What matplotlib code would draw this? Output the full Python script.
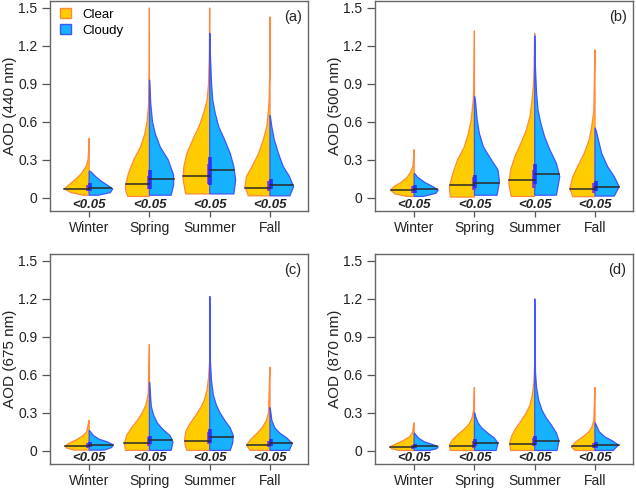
import numpy as np
import matplotlib
matplotlib.use('Agg')
import matplotlib.pyplot as plt
from matplotlib.patches import Patch

plt.rcParams['font.family'] = ['Liberation Sans', 'DejaVu Sans']

seasons = ['Winter', 'Spring', 'Summer', 'Fall']
wavelengths = ['440', '500', '675', '870']
tags = ['(a)', '(b)', '(c)', '(d)']
p_text = ['<0.05', '<0.05', '<0.05', '<0.05']

# half-violin outlines: (AOD, half width) from bottom to top
clear_440 = [
    [(0.02, 0.10), (0.04, 0.30), (0.07, 0.41), (0.10, 0.34), (0.14, 0.24), (0.19, 0.13), (0.25, 0.05), (0.30, 0.02), (0.36, 0.008), (0.47, 0.003)],
    [(0.01, 0.36), (0.05, 0.39), (0.09, 0.40), (0.19, 0.35), (0.30, 0.26), (0.40, 0.15), (0.50, 0.08), (0.60, 0.04), (0.75, 0.012), (1.00, 0.005), (1.50, 0.002)],
    [(0.03, 0.40), (0.14, 0.44), (0.245, 0.43), (0.35, 0.38), (0.46, 0.28), (0.56, 0.18), (0.67, 0.10), (0.77, 0.045), (0.90, 0.02), (1.15, 0.006), (1.50, 0.002)],
    [(0.015, 0.36), (0.087, 0.415), (0.17, 0.39), (0.245, 0.30), (0.35, 0.19), (0.46, 0.11), (0.56, 0.055), (0.67, 0.03), (0.77, 0.015), (1.00, 0.005), (1.43, 0.002)],
]
cloudy_440 = [
    [(0.02, 0.15), (0.04, 0.35), (0.07, 0.39), (0.10, 0.30), (0.13, 0.20), (0.17, 0.10), (0.20, 0.04), (0.21, 0.01)],
    [(0.02, 0.36), (0.10, 0.40), (0.18, 0.40), (0.30, 0.31), (0.40, 0.18), (0.50, 0.10), (0.60, 0.05), (0.75, 0.02), (0.93, 0.003)],
    [(0.03, 0.40), (0.14, 0.43), (0.245, 0.40), (0.35, 0.34), (0.46, 0.245), (0.56, 0.15), (0.67, 0.09), (0.77, 0.05), (0.90, 0.03), (1.14, 0.01), (1.30, 0.003)],
    [(0.015, 0.33), (0.087, 0.39), (0.17, 0.32), (0.245, 0.22), (0.35, 0.14), (0.46, 0.07), (0.56, 0.03), (0.65, 0.003)],
]
clear_500 = [
    [(0.01, 0.12), (0.03, 0.32), (0.06, 0.39), (0.09, 0.33), (0.12, 0.22), (0.16, 0.12), (0.20, 0.06), (0.25, 0.02), (0.38, 0.003)],
    [(0.005, 0.40), (0.087, 0.415), (0.19, 0.36), (0.30, 0.28), (0.40, 0.17), (0.51, 0.10), (0.615, 0.055), (0.77, 0.02), (0.90, 0.01), (1.32, 0.002)],
    [(0.01, 0.39), (0.11, 0.43), (0.22, 0.40), (0.325, 0.33), (0.43, 0.23), (0.535, 0.14), (0.64, 0.08), (0.77, 0.045), (0.905, 0.02), (1.04, 0.01), (1.30, 0.002)],
    [(0.008, 0.37), (0.074, 0.415), (0.166, 0.37), (0.245, 0.29), (0.35, 0.18), (0.46, 0.095), (0.56, 0.055), (0.69, 0.02), (1.17, 0.002)],
]
cloudy_500 = [
    [(0.01, 0.15), (0.035, 0.36), (0.06, 0.40), (0.09, 0.30), (0.12, 0.18), (0.16, 0.06), (0.19, 0.01)],
    [(0.02, 0.375), (0.13, 0.415), (0.22, 0.39), (0.30, 0.28), (0.40, 0.15), (0.51, 0.08), (0.615, 0.045), (0.77, 0.015), (0.80, 0.003)],
    [(0.02, 0.36), (0.166, 0.415), (0.27, 0.36), (0.38, 0.25), (0.48, 0.165), (0.59, 0.10), (0.69, 0.055), (0.83, 0.03), (1.04, 0.01), (1.28, 0.002)],
    [(0.013, 0.32), (0.087, 0.40), (0.166, 0.32), (0.245, 0.21), (0.35, 0.11), (0.46, 0.055), (0.53, 0.02), (0.55, 0.003)],
]
clear_675 = [
    [(0.005, 0.25), (0.02, 0.37), (0.037, 0.40), (0.06, 0.33), (0.09, 0.20), (0.12, 0.10), (0.15, 0.04), (0.24, 0.004)],
    [(0.003, 0.40), (0.06, 0.415), (0.12, 0.38), (0.18, 0.30), (0.24, 0.20), (0.30, 0.12), (0.36, 0.06), (0.45, 0.02), (0.84, 0.003)],
    [(0.003, 0.38), (0.05, 0.41), (0.10, 0.415), (0.16, 0.39), (0.22, 0.32), (0.28, 0.23), (0.34, 0.15), (0.40, 0.09), (0.48, 0.045), (0.58, 0.02), (0.70, 0.003)],
    [(0.003, 0.33), (0.045, 0.39), (0.09, 0.32), (0.14, 0.21), (0.19, 0.12), (0.24, 0.06), (0.30, 0.025), (0.66, 0.003)],
]
cloudy_675 = [
    [(0.005, 0.25), (0.025, 0.37), (0.045, 0.40), (0.07, 0.30), (0.09, 0.17), (0.12, 0.07), (0.16, 0.005)],
    [(0.003, 0.36), (0.07, 0.39), (0.12, 0.34), (0.17, 0.22), (0.22, 0.13), (0.28, 0.07), (0.35, 0.03), (0.54, 0.003)],
    [(0.003, 0.34), (0.06, 0.38), (0.12, 0.39), (0.18, 0.34), (0.24, 0.25), (0.30, 0.17), (0.36, 0.11), (0.44, 0.06), (0.55, 0.03), (0.70, 0.012), (1.22, 0.003)],
    [(0.003, 0.32), (0.058, 0.37), (0.10, 0.28), (0.14, 0.16), (0.18, 0.08), (0.24, 0.03), (0.34, 0.003)],
]
clear_870 = [
    [(0.002, 0.25), (0.015, 0.37), (0.03, 0.40), (0.05, 0.32), (0.08, 0.18), (0.11, 0.08), (0.14, 0.03), (0.22, 0.003)],
    [(0.002, 0.40), (0.045, 0.415), (0.09, 0.36), (0.13, 0.27), (0.17, 0.17), (0.21, 0.09), (0.26, 0.04), (0.32, 0.015), (0.50, 0.003)],
    [(0.002, 0.40), (0.06, 0.415), (0.12, 0.38), (0.18, 0.31), (0.24, 0.22), (0.30, 0.14), (0.36, 0.08), (0.44, 0.04), (0.54, 0.015), (0.67, 0.003)],
    [(0.002, 0.33), (0.03, 0.39), (0.07, 0.32), (0.11, 0.20), (0.15, 0.10), (0.19, 0.05), (0.24, 0.02), (0.50, 0.003)],
]
cloudy_870 = [
    [(0.002, 0.25), (0.015, 0.37), (0.03, 0.40), (0.05, 0.30), (0.07, 0.17), (0.10, 0.07), (0.14, 0.004)],
    [(0.002, 0.36), (0.06, 0.39), (0.10, 0.33), (0.14, 0.22), (0.18, 0.12), (0.22, 0.06), (0.27, 0.02), (0.30, 0.003)],
    [(0.002, 0.37), (0.08, 0.40), (0.14, 0.36), (0.20, 0.28), (0.26, 0.19), (0.32, 0.12), (0.40, 0.065), (0.50, 0.03), (0.62, 0.012), (1.20, 0.003)],
    [(0.002, 0.30), (0.045, 0.39), (0.08, 0.28), (0.11, 0.16), (0.15, 0.07), (0.22, 0.004)],
]

# medians
med_clear_440 = [0.07, 0.11, 0.17, 0.08]
med_cloudy_440 = [0.08, 0.15, 0.22, 0.10]
med_clear_500 = [0.06, 0.10, 0.14, 0.07]
med_cloudy_500 = [0.065, 0.12, 0.185, 0.085]
med_clear_675 = [0.035, 0.06, 0.08, 0.045]
med_cloudy_675 = [0.045, 0.085, 0.11, 0.06]
med_clear_870 = [0.028, 0.04, 0.055, 0.035]
med_cloudy_870 = [0.035, 0.06, 0.075, 0.045]

# interquartile ranges
iqr_clear_440 = [(0.05, 0.10), (0.07, 0.17), (0.11, 0.27), (0.05, 0.13)]
iqr_cloudy_440 = [(0.05, 0.12), (0.07, 0.22), (0.10, 0.32), (0.07, 0.15)]
iqr_clear_500 = [(0.04, 0.09), (0.06, 0.16), (0.08, 0.22), (0.04, 0.12)]
iqr_cloudy_500 = [(0.04, 0.10), (0.08, 0.18), (0.11, 0.27), (0.05, 0.13)]
iqr_clear_675 = [(0.02, 0.06), (0.035, 0.11), (0.05, 0.15), (0.03, 0.08)]
iqr_cloudy_675 = [(0.03, 0.07), (0.05, 0.12), (0.06, 0.17), (0.035, 0.09)]
iqr_clear_870 = [(0.015, 0.045), (0.025, 0.08), (0.035, 0.10), (0.02, 0.06)]
iqr_cloudy_870 = [(0.02, 0.05), (0.035, 0.09), (0.045, 0.12), (0.025, 0.065)]

clear_all = [clear_440, clear_500, clear_675, clear_870]
cloudy_all = [cloudy_440, cloudy_500, cloudy_675, cloudy_870]
med_clear_all = [med_clear_440, med_clear_500, med_clear_675, med_clear_870]
med_cloudy_all = [med_cloudy_440, med_cloudy_500, med_cloudy_675, med_cloudy_870]
iqr_clear_all = [iqr_clear_440, iqr_clear_500, iqr_clear_675, iqr_clear_870]
iqr_cloudy_all = [iqr_cloudy_440, iqr_cloudy_500, iqr_cloudy_675, iqr_cloudy_870]

yellow = '#FFCC00'
orange = '#FF8A3D'
blue = '#16B2FF'
blue_edge = '#3F55FF'


def half_violin(ax, x, prof, side, med, iqr, face, edge, boxcol):
    ys = np.array([p[0] for p in prof])
    ws = np.array([p[1] for p in prof])
    xs = x + side * ws
    px = np.concatenate([xs, [x, x]])
    py = np.concatenate([ys, [ys[-1], ys[0]]])
    ax.fill(px, py, facecolor=face, edgecolor=edge, lw=0.9, zorder=2)
    wm = np.interp(med, ys, ws)
    ax.plot([x, x + side * wm], [med, med], color='#2a2a2a', lw=1.1, zorder=4)
    ax.plot([x + side * 0.012, x + side * 0.012], iqr, color=boxcol, lw=2.6,
            solid_capstyle='butt', zorder=3)


fig = plt.figure(figsize=(6.36, 4.90), dpi=100)
pos = [(50, 1), (375, 1), (50, 254), (375, 254)]
W, H = 636, 490
xpos = np.arange(1, 5)

for k in range(4):
    l, t = pos[k]
    ax = fig.add_axes([l / W, 1 - (t + 210) / H, 258 / W, 210 / H])
    for i in range(4):
        half_violin(ax, xpos[i], clear_all[k][i], -1, med_clear_all[k][i],
                    iqr_clear_all[k][i], yellow, orange, '#7A3CD0')
        half_violin(ax, xpos[i], cloudy_all[k][i], 1, med_cloudy_all[k][i],
                    iqr_cloudy_all[k][i], blue, blue_edge, '#2A30FF')
        ax.text(xpos[i], -0.055, p_text[i], ha='center', va='center',
                fontsize=9.5, fontweight='bold', fontstyle='italic', color='#222222')
    ax.set_xlim(0.35, 4.63)
    ax.set_ylim(-0.105, 1.555)
    ax.set_yticks([0, 0.3, 0.6, 0.9, 1.2, 1.5])
    ax.set_yticklabels(['0', '0.3', '0.6', '0.9', '1.2', '1.5'])
    ax.set_xticks(xpos)
    ax.set_xticklabels(seasons)
    ax.tick_params(length=6, width=0.9, color='#555555', labelsize=10,
                   labelcolor='#222222')
    ax.tick_params(axis='y', pad=3)
    ax.tick_params(axis='x', length=4, pad=3.5)
    for s in ax.spines.values():
        s.set_color('#666666')
        s.set_linewidth(1.0)
    ax.set_ylabel('AOD (%s nm)' % wavelengths[k], fontsize=11, color='#222222', labelpad=1)
    ax.text(0.975, 0.955, tags[k], transform=ax.transAxes, ha='right', va='top',
            fontsize=10.5, color='#222222')
    if k == 0:
        handles = [Patch(facecolor=yellow, edgecolor=orange, label='Clear'),
                   Patch(facecolor=blue, edgecolor=blue_edge, label='Cloudy')]
        ax.legend(handles=handles, loc='upper left', frameon=False, fontsize=9.5,
                  handlelength=0.8, handleheight=0.75, handletextpad=0.9,
                  labelspacing=0.25, borderaxespad=0, borderpad=0,
                  bbox_to_anchor=(0.039, 0.965))

fig.savefig('out.png', dpi=100)
